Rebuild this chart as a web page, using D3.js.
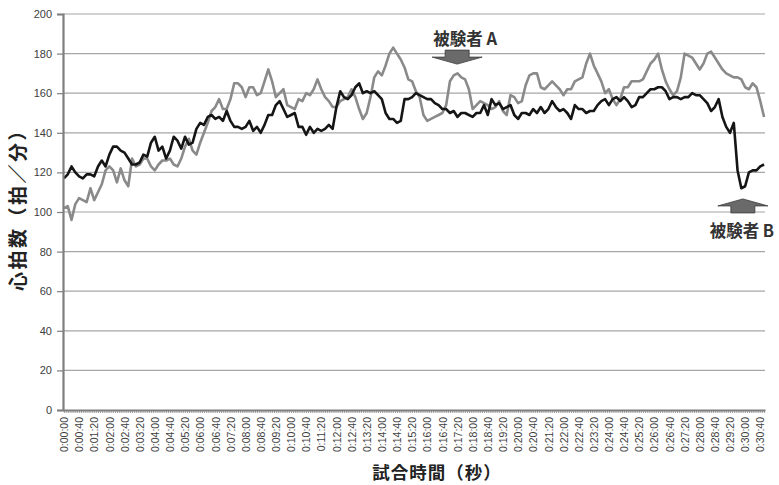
<!DOCTYPE html>
<html>
<head>
<meta charset="utf-8">
<script src="https://cdn.jsdelivr.net/npm/d3@7/dist/d3.min.js"></script>
<style>
  body { margin: 0; background: #fff; }
  text { font-family: "Liberation Sans", Arial, sans-serif; }
  .jp { font-family: "Noto Sans CJK JP", "Noto Sans", sans-serif; }
</style>
</head>
<body>
<div id="viz"></div>
<script>

// data: heart rate every 10 seconds, 0:00:00 .. 0:30:50

const stepSeconds = 10;

const heartA = [
  102, 103, 96, 104, 107, 106, 105, 112, 106, 110,
  114, 121, 123, 121, 115, 122, 116, 113, 127, 123,
  124, 127, 127, 123, 121, 124, 126, 126, 127, 124,
  123, 127, 133, 137, 131, 129, 135, 140, 145, 151,
  153, 157, 152, 152, 157, 165, 165, 163, 158, 163,
  163, 159, 160, 166, 172, 166, 158, 160, 162, 154,
  153, 152, 157, 156, 160, 159, 162, 167, 162, 158,
  156, 153, 153, 156, 157, 158, 162, 158, 152, 147,
  150, 158, 168, 171, 169, 174, 180, 183, 180, 177,
  173, 167, 166, 161, 158, 149, 146, 147, 148, 149,
  150, 154, 166, 169, 170, 168, 167, 162, 152, 154,
  156, 155, 154, 152, 153, 156, 151, 149, 159, 158,
  155, 156, 164, 169, 170, 170, 163, 162, 164, 166,
  164, 162, 159, 162, 162, 166, 167, 168, 175, 180,
  174, 170, 166, 160, 162, 157, 154, 157, 163, 163,
  166, 166, 166, 167, 171, 175, 177, 180, 172, 166,
  162, 159, 161, 168, 180, 179, 178, 175, 172, 175,
  180, 181, 178, 175, 172, 170, 169, 168, 168, 167,
  163, 162, 165, 163, 156, 148
];

const heartB = [
  117, 119, 123, 120, 118, 117, 119, 119, 118, 123,
  126, 123, 129, 133, 133, 131, 130, 127, 124, 124,
  125, 129, 128, 135, 138, 131, 133, 127, 131, 138,
  136, 132, 138, 134, 135, 142, 145, 144, 148, 149,
  147, 148, 146, 151, 146, 143, 143, 142, 143, 146,
  141, 143, 140, 144, 149, 149, 154, 156, 152, 148,
  149, 150, 143, 143, 139, 143, 140, 142, 141, 142,
  144, 142, 153, 161, 158, 157, 159, 163, 165, 160,
  161, 160, 161, 159, 157, 150, 147, 147, 145, 146,
  157, 157, 158, 160, 159, 158, 157, 157, 155, 154,
  152, 152, 150, 151, 148, 150, 150, 149, 148, 150,
  150, 154, 149, 157, 154, 155, 152, 153, 154, 149,
  147, 150, 150, 149, 152, 150, 153, 150, 152, 156,
  153, 151, 152, 150, 147, 154, 152, 152, 150, 151,
  151, 154, 156, 157, 154, 157, 158, 156, 158, 156,
  153, 154, 158, 158, 160, 162, 162, 163, 163, 161,
  157, 158, 158, 157, 158, 158, 160, 159, 159, 157,
  155, 151, 153, 157, 148, 143, 140, 145, 121, 112,
  113, 120, 121, 121, 123, 124
];

const tickLabels = [
  "0:00:00", "0:00:40", "0:01:20", "0:02:00", "0:02:40", "0:03:20", "0:04:00", "0:04:40",
  "0:05:20", "0:06:00", "0:06:40", "0:07:20", "0:08:00", "0:08:40", "0:09:20", "0:10:00",
  "0:10:40", "0:11:20", "0:12:00", "0:12:40", "0:13:20", "0:14:00", "0:14:40", "0:15:20",
  "0:16:00", "0:16:40", "0:17:20", "0:18:00", "0:18:40", "0:19:20", "0:20:00", "0:20:40",
  "0:21:20", "0:22:00", "0:22:40", "0:23:20", "0:24:00", "0:24:40", "0:25:20", "0:26:00",
  "0:26:40", "0:27:20", "0:28:00", "0:28:40", "0:29:20", "0:30:00", "0:30:40"
];

const yTicks = [0, 20, 40, 60, 80, 100, 120, 140, 160, 180, 200];

const notes = [
  { label: "被験者 A", t: 1039, v: 174.7, dir: "down" },
  { label: "被験者 B", t: 1794, v: 106.6, dir: "up" }
];

async function draw() {

  // access data

  const toSeconds = s => s.split(":").map(Number).reduce((a, b) => a * 60 + b, 0);
  const seriesA = heartA.map((v, i) => ({ t: i * stepSeconds, v }));
  const seriesB = heartB.map((v, i) => ({ t: i * stepSeconds, v }));
  const lastT = (heartA.length - 1) * stepSeconds;

  const xAccessor = d => d.t;
  const yAccessor = d => d.v;

  // create dimensions

  const dms = {
    width: 779,
    height: 485,
    margins: { top: 14, bottom: 75, left: 63, right: 14 }
  };
  dms.innerWidth = dms.width - dms.margins.left - dms.margins.right;
  dms.innerHeight = dms.height - dms.margins.top - dms.margins.bottom;

  // draw canvas

  const svg = d3.select("#viz")
    .append("svg")
      .attr("width", dms.width)
      .attr("height", dms.height)
      .style("display", "block");

  svg.append("rect")
      .attr("width", dms.width)
      .attr("height", dms.height)
      .attr("fill", "#fff");

  const g = svg.append("g")
      .attr("transform", `translate(${dms.margins.left},${dms.margins.top})`);

  // create scales

  const half = stepSeconds / 4;
  const xScale = d3.scaleLinear()
    .domain([-half, lastT + half])
    .range([0, dms.innerWidth]);

  const yScale = d3.scaleLinear()
    .domain([0, 200])
    .range([dms.innerHeight, 0]);

  // gridlines

  g.append("g")
    .selectAll("line")
    .data(yTicks.filter(d => d > 0))
    .join("line")
      .attr("x1", 0)
      .attr("x2", dms.innerWidth)
      .attr("y1", d => yScale(d))
      .attr("y2", d => yScale(d))
      .attr("stroke", "#a6a6a6")
      .attr("stroke-width", 1.2);

  // draw data

  const line = d3.line()
    .x(d => xScale(xAccessor(d)))
    .y(d => yScale(yAccessor(d)));

  g.append("path")
      .datum(seriesA)
      .attr("d", line)
      .attr("fill", "none")
      .attr("stroke", "#8a8a8a")
      .attr("stroke-width", 2.6)
      .attr("stroke-linejoin", "round");

  g.append("path")
      .datum(seriesB)
      .attr("d", line)
      .attr("fill", "none")
      .attr("stroke", "#151515")
      .attr("stroke-width", 2.6)
      .attr("stroke-linejoin", "round");

  // axes

  const yAxis = d3.axisLeft(yScale)
    .tickValues(yTicks)
    .tickSize(6)
    .tickPadding(5);

  const yAxisGroup = g.append("g").call(yAxis);
  yAxisGroup.select(".domain").attr("stroke", "#7f7f7f").attr("stroke-width", 2.2);
  yAxisGroup.selectAll(".tick line").attr("stroke", "#7f7f7f").attr("stroke-width", 1.2);
  yAxisGroup.selectAll(".tick text")
      .attr("fill", "#404040")
      .style("font-size", "11px");

  // minor ticks, one per 5 seconds
  const minorTicks = d3.range(0, lastT + 1, stepSeconds / 2);
  const xAxisMinor = d3.axisBottom(xScale)
    .tickValues(minorTicks)
    .tickSize(3)
    .tickFormat("");

  const xMinorGroup = g.append("g")
      .attr("transform", `translate(0,${dms.innerHeight})`)
      .call(xAxisMinor);
  xMinorGroup.select(".domain").remove();
  xMinorGroup.selectAll(".tick line").attr("stroke", "#8c8c8c").attr("stroke-width", 0.8);

  const xAxis = d3.axisBottom(xScale)
    .tickValues(tickLabels.map(toSeconds))
    .tickSize(0)
    .tickFormat((d, i) => tickLabels[i]);

  const xAxisGroup = g.append("g")
      .attr("transform", `translate(0,${dms.innerHeight})`)
      .call(xAxis);
  xAxisGroup.select(".domain").attr("stroke", "#7f7f7f").attr("stroke-width", 2.2);
  xAxisGroup.selectAll(".tick text")
      .attr("fill", "#404040")
      .style("font-size", "10.5px")
      .attr("text-anchor", "end")
      .attr("transform", "rotate(-90)")
      .attr("x", -7)
      .attr("y", 0)
      .attr("dy", "0.35em");

  // axis titles

  svg.append("text")
      .attr("class", "jp")
      .attr("transform", `translate(25,205) rotate(-90)`)
      .attr("text-anchor", "middle")
      .attr("fill", "#222")
      .style("font-size", "19px")
      .style("letter-spacing", "2.5px")
      .style("font-weight", "bold")
      .text("心拍数（拍／分）");

  svg.append("text")
      .attr("class", "jp")
      .attr("x", 437)
      .attr("y", 479)
      .attr("text-anchor", "middle")
      .attr("fill", "#222")
      .style("font-size", "17.5px")
      .style("letter-spacing", "1px")
      .style("font-weight", "bold")
      .text("試合時間（秒）");

  // annotations

  const arrow = (dir) => {
    const s = dir === "down" ? -1 : 1;
    return `M0,0 L25,${7 * s} L12,${7 * s} L12,${14 * s} L-12,${14 * s} L-12,${7 * s} L-25,${7 * s} Z`;
  };

  const noteGroups = g.selectAll(".note")
    .data(notes)
    .join("g")
      .attr("class", "note")
      .attr("transform", d => `translate(${xScale(d.t)},${yScale(d.v)})`);

  noteGroups.append("path")
      .attr("d", d => arrow(d.dir))
      .attr("fill", "#6a6a6a")
      .attr("stroke", "#3a3a3a")
      .attr("stroke-width", 0.8);

  noteGroups.append("text")
      .attr("class", "jp")
      .attr("x", d => d.dir === "down" ? 8 : -1)
      .attr("y", d => d.dir === "down" ? -19 : 38)
      .attr("text-anchor", "middle")
      .attr("fill", "#333")
      .style("font-size", "16.5px")
      .style("font-weight", "bold")
      .text(d => d.label);
}

draw();
</script>
</body>
</html>
